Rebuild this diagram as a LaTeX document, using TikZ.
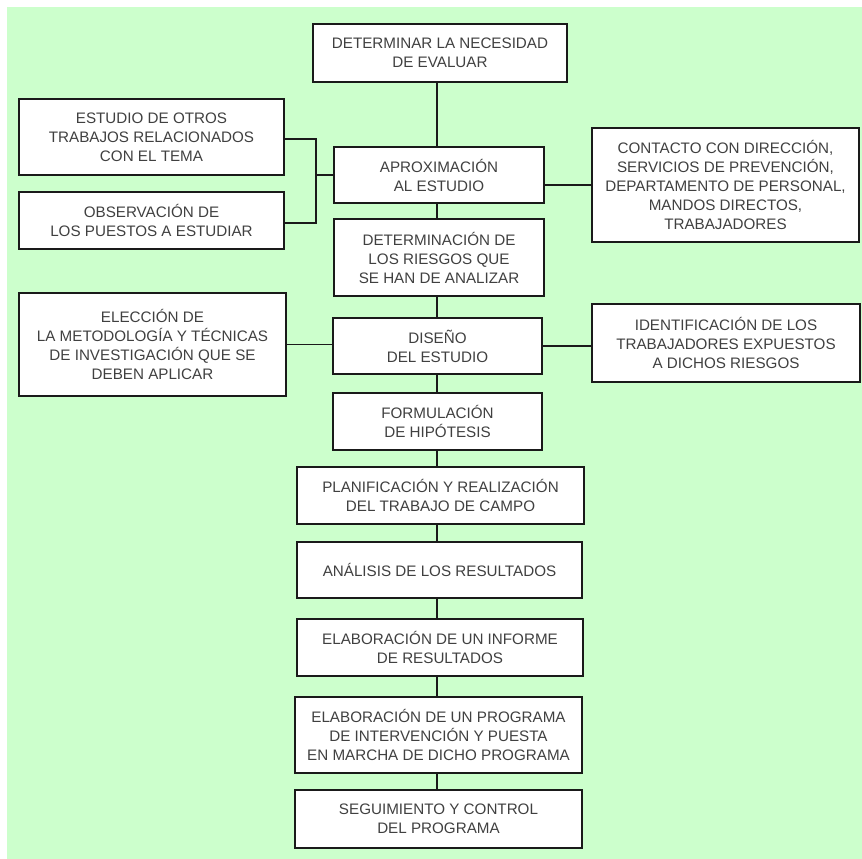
\documentclass[tikz,border=0pt]{standalone}
\usepackage{fontspec}
\setmainfont{Liberation Sans}
\definecolor{bggreen}{HTML}{CCFFCC}
\definecolor{txtgray}{HTML}{404040}
\definecolor{linecol}{HTML}{1A1A1A}
\begin{document}
\begin{tikzpicture}[x=1pt,y=-1pt,
  box/.style={draw=linecol, line width=1.9pt, fill=white, align=center, inner sep=0pt,
    font=\fontsize{15.2}{19}\selectfont, text=txtgray},
  conn/.style={draw=linecol, line width=1.9pt}]
\useasboundingbox (0,0) rectangle (862,859);
\fill[bggreen] (7,7) rectangle (862,859);
\coordinate (spine) at (437,0);
\coordinate (jL) at (316,175);
% main column
\node[box, minimum width=254, minimum height=58] (det) at (440,53) {DETERMINAR LA NECESIDAD\\DE EVALUAR};
\node[box, minimum width=210, minimum height=56] (apr) at (439,175) {APROXIMACIÓN\\AL ESTUDIO};
\node[box, minimum width=210, minimum height=77] (detr) at (439,257.5) {DETERMINACIÓN DE\\LOS RIESGOS QUE\\SE HAN DE ANALIZAR};
\node[box, minimum width=209, minimum height=56] (dis) at (437.5,346) {DISEÑO\\DEL ESTUDIO};
\node[box, minimum width=209, minimum height=57] (for) at (437.5,421.5) {FORMULACIÓN\\DE HIPÓTESIS};
\node[box, minimum width=287, minimum height=57] (pla) at (440.5,495.5) {PLANIFICACIÓN Y REALIZACIÓN\\DEL TRABAJO DE CAMPO};
\node[box, minimum width=285, minimum height=56] (ana) at (439.5,570) {ANÁLISIS DE LOS RESULTADOS};
\node[box, minimum width=286, minimum height=57] (inf) at (440,647.5) {ELABORACIÓN DE UN INFORME\\DE RESULTADOS};
\node[box, minimum width=287, minimum height=76] (pro) at (438.5,735) {ELABORACIÓN DE UN PROGRAMA\\DE INTERVENCIÓN Y PUESTA\\EN MARCHA DE DICHO PROGRAMA};
\node[box, minimum width=287, minimum height=58] (seg) at (438.5,819) {SEGUIMIENTO Y CONTROL\\DEL PROGRAMA};
% side boxes
\node[box, minimum width=265, minimum height=76] (est) at (151.5,137) {ESTUDIO DE OTROS\\TRABAJOS RELACIONADOS\\CON EL TEMA};
\node[box, minimum width=265, minimum height=57] (obs) at (151.5,220.5) {OBSERVACIÓN DE\\LOS PUESTOS A ESTUDIAR};
\node[box, minimum width=267, minimum height=114] (con) at (725.5,185) {CONTACTO CON DIRECCIÓN,\\SERVICIOS DE PREVENCIÓN,\\DEPARTAMENTO DE PERSONAL,\\MANDOS DIRECTOS,\\TRABAJADORES};
\node[box, minimum width=267, minimum height=103] (ele) at (152.5,344.5) {ELECCIÓN DE\\LA METODOLOGÍA Y TÉCNICAS\\DE INVESTIGACIÓN QUE SE\\DEBEN APLICAR};
\node[box, minimum width=268, minimum height=78] (ide) at (726,343) {IDENTIFICACIÓN DE LOS\\TRABAJADORES EXPUESTOS\\A DICHOS RIESGOS};
% main connectors
\draw[conn] (det.south -| spine) -- (apr.north -| spine);
\draw[conn] (apr.south -| spine) -- (detr.north -| spine);
\draw[conn] (detr.south -| spine) -- (dis.north -| spine);
\draw[conn] (dis.south -| spine) -- (for.north -| spine);
\draw[conn] (for.south -| spine) -- (pla.north -| spine);
\draw[conn] (pla.south -| spine) -- (ana.north -| spine);
\draw[conn] (ana.south -| spine) -- (inf.north -| spine);
\draw[conn] (inf.south -| spine) -- (pro.north -| spine);
\draw[conn] (pro.south -| spine) -- (seg.north -| spine);
% side connectors
\draw[conn] ([yshift=-2pt]est.east) -| (jL);
\draw[conn] ([yshift=-2.5pt]obs.east) -| (jL);
\draw[conn] (jL) -- (apr.west);
\draw[conn] (con.west) -- (con.west -| apr.east);
\draw[conn] (ele.east) -- (ele.east -| dis.west);
\draw[conn] (dis.east) -- (dis.east -| ide.west);
\end{tikzpicture}
\end{document}
